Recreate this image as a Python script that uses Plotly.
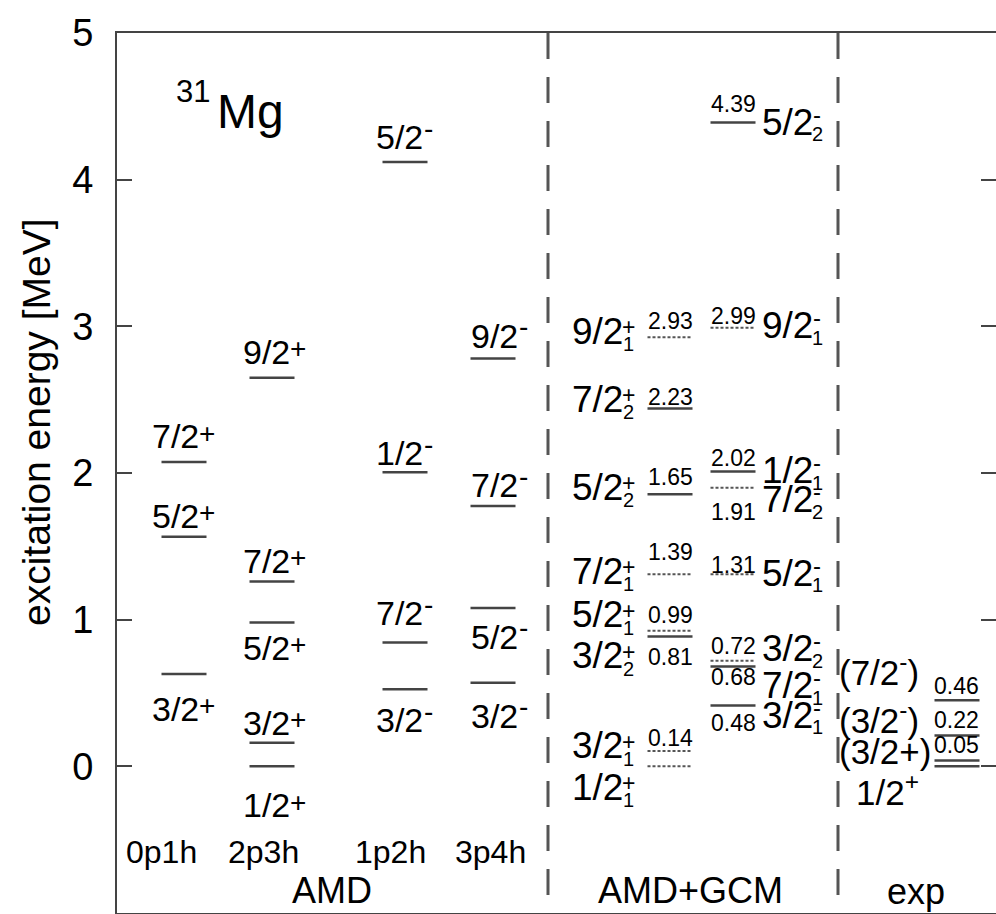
import plotly.graph_objects as go

# ---------------- data ----------------
amd_cols = ["0p1h", "2p3h", "1p2h", "3p4h"]

amd_0p1h_J = ["3/2", "5/2", "7/2"]
amd_0p1h_P = ["+", "+", "+"]
amd_0p1h_E = [0.63, 1.565, 2.075]

amd_2p3h_J = ["1/2", "3/2", "5/2", "7/2", "9/2"]
amd_2p3h_P = ["+", "+", "+", "+", "+"]
amd_2p3h_E = [0.0, 0.16, 0.98, 1.26, 2.65]

amd_1p2h_J = ["3/2", "7/2", "1/2", "5/2"]
amd_1p2h_P = ["-", "-", "-", "-"]
amd_1p2h_E = [0.525, 0.845, 2.005, 4.12]

amd_3p4h_J = ["3/2", "5/2", "7/2", "9/2"]
amd_3p4h_P = ["-", "-", "-", "-"]
amd_3p4h_E = [0.57, 1.08, 1.775, 2.78]

# AMD+GCM positive parity
gcm_pos_J = ["1/2", "3/2", "3/2", "5/2", "7/2", "5/2", "7/2", "9/2"]
gcm_pos_idx = ["1", "1", "2", "1", "1", "2", "2", "1"]
gcm_pos_E = [0.0, 0.105, 0.885, 0.925, 1.31, 1.855, 2.44, 2.925]
gcm_pos_val = ["", "0.14", "0.81", "0.99", "1.39", "1.65", "2.23", "2.93"]
gcm_pos_style = ["dot", "dot", "solid", "dot", "dot", "solid", "solid", "dot"]

# AMD+GCM negative parity
gcm_neg_J = ["3/2", "7/2", "3/2", "5/2", "7/2", "1/2", "9/2", "5/2"]
gcm_neg_idx = ["1", "1", "2", "1", "2", "1", "1", "2"]
gcm_neg_E = [0.415, 0.68, 0.72, 1.31, 1.90, 2.01, 2.99, 4.39]
gcm_neg_val = ["0.48", "0.68", "0.72", "1.31", "1.91", "2.02", "2.99", "4.39"]
gcm_neg_style = ["solid", "solid", "dot", "dot", "dot", "solid", "dot", "solid"]

# experiment
exp_label = ["1/2<sup>+</sup>", "(3/2+)", "(3/2<sup>-</sup>)", "(7/2<sup>-</sup>)"]
exp_E = [0.0, 0.04, 0.21, 0.45]
exp_val = ["", "0.05", "0.22", "0.46"]

y_ticks = [0, 1, 2, 3, 4, 5]

# ---------------- layout constants ----------------
FONT = "Liberation Sans, Arial, sans-serif"
W, H = 996, 914
ML, MR, MT, MB = 117, 0, 33, 1
HALF = 22.5
AMD_X = [184, 272, 405, 493]          # level centres
AMD_LX = [151, 242, 375, 470]         # label left edges
GCM_POS_X, GCM_NEG_X, EXP_X = 670, 733, 957
SEP_X = [548, 838]

# label offsets in px (positive = downwards)
amd_lab_dy = [[35, -21, -26], [39, -20, 25, -21, -26], [31, -29, -19, -25], [33, 29, -21, -23]]
gcm_pos_lab_dy = [21, -5, 19, -16, -3, -7, -9, -6]
gcm_pos_val_dy = [0, -13, 20, -16, -22, -17, -11, -16]
gcm_neg_lab_dy = [10, 19, -12, -1, 12, -1, -2, 0]
gcm_neg_val_dy = [18, 10, -15, -9, 24, -14, -12, -18]
exp_lab_dy = [24, -9, -18, -30]
exp_val_dy = [0, -15, -16, -14]

fig = go.Figure()
ann = []


def text(x, y, s, size, xanchor="center", yanchor="middle", xref="x", yref="y",
         yshift=0, textangle=0):
    ann.append(dict(x=x, y=y, xref=xref, yref=yref, text=s, showarrow=False,
                    font=dict(family=FONT, size=size, color="black"),
                    xanchor=xanchor, yanchor=yanchor, yshift=yshift,
                    textangle=textangle, borderpad=0))


def px2paper_y(py):
    return (H - MB - py) / (H - MT - MB)


sx, sy, dx, dy = [], [], [], []


def seg(xc, e, style="solid"):
    if style == "solid":
        sx.extend([xc - HALF, xc + HALF, None]); sy.extend([e, e, None])
    else:
        dx.extend([xc - HALF, xc + HALF, None]); dy.extend([e, e, None])


# AMD columns
amd_J = [amd_0p1h_J, amd_2p3h_J, amd_1p2h_J, amd_3p4h_J]
amd_P = [amd_0p1h_P, amd_2p3h_P, amd_1p2h_P, amd_3p4h_P]
amd_E = [amd_0p1h_E, amd_2p3h_E, amd_1p2h_E, amd_3p4h_E]
S_AMD = 34
for c in range(4):
    for j, p, e, d in zip(amd_J[c], amd_P[c], amd_E[c], amd_lab_dy[c]):
        seg(AMD_X[c], e)
        text(AMD_LX[c], e, j, S_AMD, xanchor="left", yshift=-d)
        if p == "+":
            text(AMD_LX[c] + 1.39 * S_AMD, e, "+", 28, xanchor="left", yshift=-d + 3)
        else:
            text(AMD_LX[c] + 1.39 * S_AMD + 1, e, "-", 28, xanchor="left", yshift=-d + 9)

# GCM positive parity (labels on the left)
S_G = 37
for j, i, e, v, st, ld, vd in zip(gcm_pos_J, gcm_pos_idx, gcm_pos_E, gcm_pos_val,
                                  gcm_pos_style, gcm_pos_lab_dy, gcm_pos_val_dy):
    seg(GCM_POS_X, e, st)
    xl = 571
    text(xl, e, j, S_G, xanchor="left", yshift=-ld)
    text(xl + 1.39 * S_G + 6, e, "+", 23, yshift=-ld + 4)
    text(xl + 1.39 * S_G + 6, e, i, 20, yshift=-ld - 13)
    if v:
        text(GCM_POS_X, e, v, 23, yshift=-vd)

# GCM negative parity (labels on the right)
for j, i, e, v, st, ld, vd in zip(gcm_neg_J, gcm_neg_idx, gcm_neg_E, gcm_neg_val,
                                  gcm_neg_style, gcm_neg_lab_dy, gcm_neg_val_dy):
    seg(GCM_NEG_X, e, st)
    xl = 761
    text(xl, e, j, S_G, xanchor="left", yshift=-ld)
    text(xl + 1.39 * S_G + 5, e, "-", 24, yshift=-ld + 8)
    text(xl + 1.39 * S_G + 5, e, i, 20, yshift=-ld - 12)
    text(GCM_NEG_X, e, v, 23, yshift=-vd)

# experiment
for lab, e, v, ld, vd in zip(exp_label, exp_E, exp_val, exp_lab_dy, exp_val_dy):
    seg(EXP_X, e)
    xl = 855 if lab.startswith("1/2") else 838
    text(xl, e, lab, 35, xanchor="left", yshift=-ld)
    if v:
        text(EXP_X - 1, e, v, 23, yshift=-vd)

fig.add_trace(go.Scatter(x=sx, y=sy, mode="lines", hoverinfo="skip",
                         line=dict(color="#444", width=2.5), showlegend=False))
fig.add_trace(go.Scatter(x=dx, y=dy, mode="lines", hoverinfo="skip",
                         line=dict(color="#555", width=2, dash="3px,2px"), showlegend=False))

# separators
for xs in SEP_X:
    fig.add_shape(type="line", x0=xs, x1=xs, y0=5, y1=-1, xref="x", yref="y",
                  line=dict(color="#555", width=3, dash="26px,18px"))

# column / group labels
for name, xc in zip(amd_cols, [161, 263, 390, 490]):
    text(xc, px2paper_y(852), name, 32, yref="paper")
text(332, px2paper_y(890), "AMD", 36, yref="paper")
text(690, px2paper_y(890), "AMD+GCM", 36, yref="paper")
text(916, px2paper_y(891), "exp", 36, yref="paper")

# nucleus label
text(193, px2paper_y(92), "31", 31, yref="paper")
text(216, px2paper_y(112), "Mg", 48, xanchor="left", yref="paper")

# y title
text((36 - ML) / (W - ML - MR), px2paper_y(422), "excitation energy [MeV]", 39,
     xref="paper", yref="paper", textangle=-90)

fig.update_layout(
    width=W, height=H, margin=dict(l=ML, r=MR, t=MT, b=MB, autoexpand=False),
    paper_bgcolor="white", plot_bgcolor="white",
    annotations=ann, showlegend=False,
    xaxis=dict(range=[ML, W - MR], showgrid=False, zeroline=False, showticklabels=False,
               ticks="", showline=True, mirror=True, linecolor="#444", linewidth=2,
               fixedrange=True, automargin=False),
    yaxis=dict(range=[-1, 5], tickvals=y_ticks, ticktext=[str(t) for t in y_ticks],
               showgrid=False, zeroline=False, ticks="inside", ticklen=15, tickwidth=2,
               tickcolor="#444", showline=True, mirror="ticks", linecolor="#444",
               linewidth=2, tickfont=dict(family=FONT, size=38, color="black"),
               ticklabelstandoff=14, fixedrange=True, automargin=False),
)

fig.write_html("out.html", config={"displayModeBar": False},
               post_script="document.body.style.margin='0';document.body.style.overflow='hidden';")
